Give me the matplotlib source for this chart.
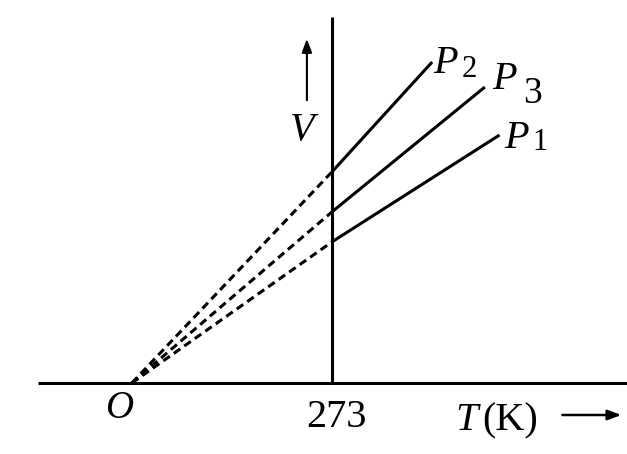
import matplotlib.pyplot as plt

# V-T lines at three pressures (T in K, V in arbitrary units)
names = ['P1', 'P2', 'P3']
T_273 = [273, 273, 273]
V_273 = [141, 211, 171]
T_end = [502, 410, 482]
V_end = [248, 321, 296]

fig = plt.figure(figsize=(6.27, 4.54), dpi=100)
ax = fig.add_axes([0, 0, 1, 1])
ax.set_xlim(-180, 676)
ax.set_ylim(-71, 383)
ax.axis('off')

serif = 'Liberation Serif'
kw = dict(family=serif, ha='center', va='baseline')

# axes
ax.plot([-128, 676], [0, 0], color='black', lw=2.2, solid_capstyle='butt')
ax.plot([273, 273], [0, 366], color='black', lw=2.2, solid_capstyle='butt')

for name, t1, v1, t2, v2 in zip(names, T_273, V_273, T_end, V_end):
    ax.plot([0, t1], [0, v1], color='black', lw=2.2, ls=(0, (2.6, 1.6)))
    ax.plot([t1, t2], [v1, v2], color='black', lw=2.2, solid_capstyle='butt')

# labels of lines
ax.text(428, 310, 'P', fontsize=29, fontstyle='italic', **kw)
ax.text(460, 306, '2', fontsize=22, **kw)
ax.text(509, 294, 'P', fontsize=29, fontstyle='italic', **kw)
ax.text(547, 280, '3', fontsize=27, **kw)
ax.text(525, 235, 'P', fontsize=29, fontstyle='italic', **kw)
ax.text(557, 233, '1', fontsize=22, **kw)

# axis labels
ax.text(-18, -35, 'O', fontsize=28, fontstyle='italic', **kw)
ax.text(280, -44, '273', fontsize=29, **kw)
ax.text(457, -47, 'T', fontsize=29, fontstyle='italic', **kw)
ax.text(516, -47, '(K)', fontsize=29, **kw)
ax.annotate('', xy=(672, -32), xytext=(584, -32),
            arrowprops=dict(arrowstyle='-|>,head_length=0.8,head_width=0.3', color='black', lw=1.8))
ax.text(233, 243, 'V', fontsize=29, fontstyle='italic', **kw)
ax.annotate('', xy=(239, 347), xytext=(239, 280),
            arrowprops=dict(arrowstyle='-|>,head_length=0.8,head_width=0.3', color='black', lw=1.5))

fig.savefig('out.png', dpi=100)
